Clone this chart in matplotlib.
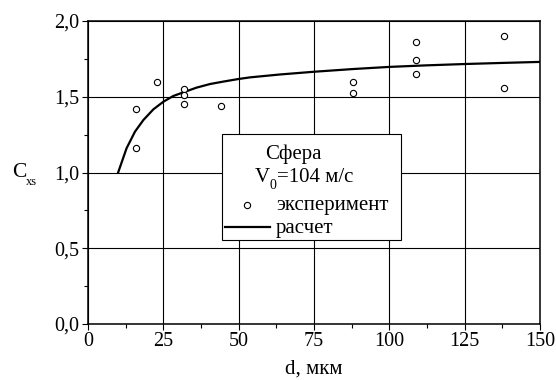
import matplotlib
matplotlib.use('Agg')
import matplotlib.pyplot as plt
from matplotlib.patches import Rectangle
from matplotlib.lines import Line2D
import numpy as np

plt.rcParams['font.family'] = ['Liberation Serif', 'DejaVu Serif']

# experiment points
exp_d = [15.9, 15.9, 23.0, 31.9, 31.9, 31.9, 44.0, 88, 88, 109, 109, 109, 138.2, 138.2]
exp_cx = [1.42, 1.16, 1.60, 1.55, 1.51, 1.45, 1.44, 1.60, 1.525, 1.86, 1.74, 1.65, 1.90, 1.56]

# calculated curve
calc_d = [10, 12.8, 15.6, 18.4, 21.7, 25, 28.3, 31.9, 36, 40.5, 44.9, 49.9, 53.8,
          63.7, 75, 88, 100, 112, 125, 137, 150]
calc_cx = [1.0, 1.16, 1.27, 1.347, 1.417, 1.467, 1.505, 1.531, 1.56, 1.584, 1.60, 1.617,
           1.628, 1.647, 1.665, 1.683, 1.697, 1.707, 1.716, 1.723, 1.73]

xticks = [0, 25, 50, 75, 100, 125, 150]
yticks = [0.0, 0.5, 1.0, 1.5, 2.0]
ytick_labels = ['0,0', '0,5', '1,0', '1,5', '2,0']

fig = plt.figure(figsize=(5.56, 3.80), dpi=100)
ax = fig.add_axes([88/556, 56/380, 452/556, 303/380])

ax.plot(calc_d, calc_cx, color='black', linewidth=1.6)
ax.plot(exp_d, exp_cx, 'o', markerfacecolor='white', markeredgecolor='black',
        markersize=4.5, markeredgewidth=0.8)

ax.set_xlim(0, 150)
ax.set_ylim(0, 2.0)
ax.set_xticks(xticks)
ax.set_xticklabels([str(t) for t in xticks])
ax.set_yticks(yticks)
ax.set_yticklabels(ytick_labels)
ax.set_xticks(np.arange(12.5, 150, 25), minor=True)
ax.set_yticks(np.arange(0.25, 2.0, 0.5), minor=True)
ax.tick_params(which='major', direction='out', length=4, width=0.8, labelsize=14.5, pad=2)
ax.tick_params(which='minor', direction='out', length=3, width=0.8)
ax.grid(True, which='major', color='black', linewidth=0.8)
for s in ax.spines.values():
    s.set_linewidth(1.1)

ax.set_xlabel('d, мкм', fontsize=15, labelpad=6)
# y label: C with small lowered subscript
fig.text(12/556, 1 - 172/380, 'C', fontsize=15.5, va='center', ha='left')
fig.text(26/556, 1 - 182/380, 'xs', fontsize=9, va='center', ha='left')

# legend box drawn by hand
ax.add_patch(Rectangle((0.296, 0.278), 0.396, 0.349, transform=ax.transAxes,
                       facecolor='white', edgecolor='black', linewidth=0.8, zorder=5))
ax.text(0.454, 0.559, 'Сфера', transform=ax.transAxes, fontsize=15,
        ha='center', va='center', zorder=6)
ax.text(0.369, 0.485, 'V', transform=ax.transAxes, fontsize=15,
        ha='left', va='center', zorder=6)
ax.text(0.401, 0.456, '0', transform=ax.transAxes, fontsize=10,
        ha='left', va='center', zorder=6)
ax.text(0.419, 0.485, '=104 м/с', transform=ax.transAxes, fontsize=15,
        ha='left', va='center', zorder=6)
ax.add_line(Line2D([0.351], [0.394], marker='o', markerfacecolor='white',
                   markeredgecolor='black', markersize=4.5, markeredgewidth=0.8,
                   transform=ax.transAxes, zorder=6))
ax.text(0.416, 0.392, 'эксперимент', transform=ax.transAxes, fontsize=15,
        ha='left', va='center', zorder=6)
ax.add_line(Line2D([0.302, 0.403], [0.319, 0.319], color='black', linewidth=1.6,
                   transform=ax.transAxes, zorder=6))
ax.text(0.416, 0.316, 'расчет', transform=ax.transAxes, fontsize=15,
        ha='left', va='center', zorder=6)

fig.savefig('out.png', dpi=100)
